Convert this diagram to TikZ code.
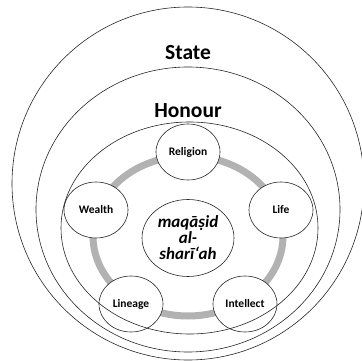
\documentclass[tikz,border=0pt]{standalone}
\usepackage{fontspec}
\setmainfont{Carlito}
\usetikzlibrary{shapes.geometric}
\begin{document}
\begin{tikzpicture}[x=1pt,y=-1pt,
  outline/.style={draw=black!85,line width=0.6pt},
  ringline/.style={draw=black!30,line width=7pt},
  value/.style={ellipse,outline,fill=white,minimum width=64pt,minimum height=56pt,inner sep=0pt,font=\fontsize{11.5}{13}\selectfont\bfseries},
  core/.style={ellipse,outline,fill=white,minimum width=92pt,minimum height=77pt,inner sep=0pt,align=center,font=\fontsize{17}{16}\selectfont\bfseries\itshape},
  title/.style={font=\fontsize{21.5}{24}\selectfont\bfseries,inner sep=0pt}]
\useasboundingbox (0,0) rectangle (362,361);
\clip (0,0) rectangle (362,361);
% gray ring
\draw[ringline] (188,236) ellipse [x radius=95pt, y radius=80pt];
% five values
\node[value] (religion) at (188,152) {Religion};
\node[value] (wealth) at (96,210) {Wealth};
\node[value] (life) at (281,210) {Life};
\node[value] (lineage) at (131,304) {Lineage};
\node[value] (intellect) at (245,304) {Intellect};
% centre
\node[core] (centre) at (188,238) {maqāṣid\\al-\\sharī‘ah};
% nested ellipses
\draw[outline] (189.5,228) ellipse [x radius=128.5pt, y radius=106pt];
\draw[outline] (188,209.5) ellipse [x radius=152pt, y radius=142.5pt];
\draw[outline] (188,183.5) ellipse [x radius=176pt, y radius=176.5pt];
% titles
\node[title] (state) at (188,53) {State};
\node[title] (honour) at (188,111) {Honour};
\end{tikzpicture}
\end{document}
